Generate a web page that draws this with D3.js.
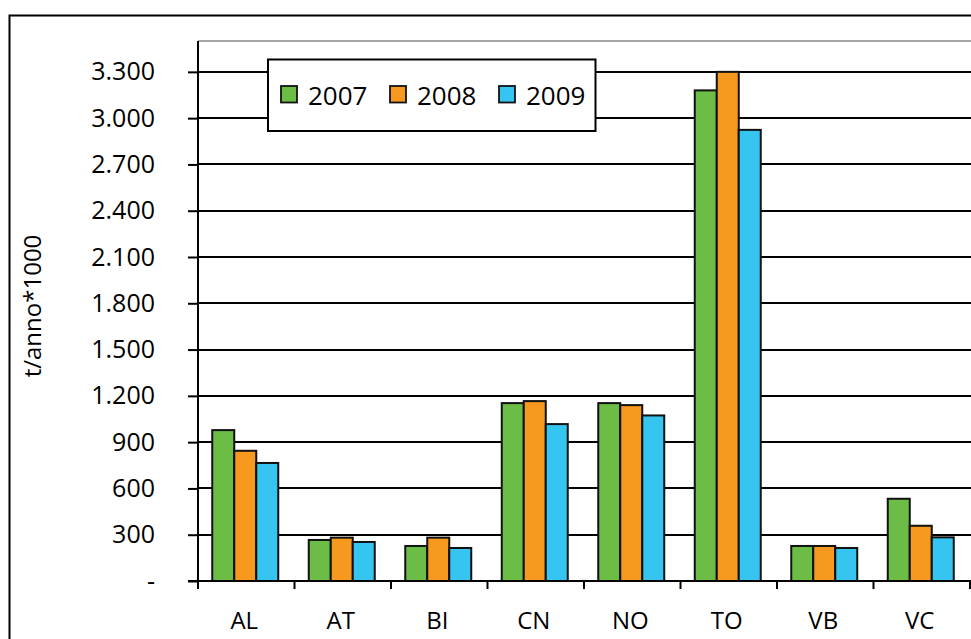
<!DOCTYPE html>
<html>
<head>
<meta charset="utf-8">
<script src="https://cdn.jsdelivr.net/npm/d3@7"></script>
<style>
  html, body { margin: 0; padding: 0; background: #fff; }
  svg { display: block; font-family: "Open Sans", "Noto Sans", sans-serif; }
</style>
</head>
<body>
<svg id="chart" width="971" height="639"></svg>
<script>
const categories = ["AL", "AT", "BI", "CN", "NO", "TO", "VB", "VC"];
const years = ["2007", "2008", "2009"];
const values2007 = [978, 266, 227, 1153, 1153, 3180, 227, 533];
const values2008 = [844, 281, 281, 1166, 1140, 3300, 227, 358];
const values2009 = [765, 253, 214, 1017, 1073, 2924, 214, 283];
const yTicks = [0, 300, 600, 900, 1200, 1500, 1800, 2100, 2400, 2700, 3000, 3300];
const yTickLabels = ["-", "300", "600", "900", "1.200", "1.500", "1.800", "2.100", "2.400", "2.700", "3.000", "3.300"];
const colors = ["#6bbd45", "#f7991e", "#35c5f0"];
const yTitle = "t/anno*1000";

(function () {
const series = [values2007, values2008, values2009];

const svg = d3.select("#chart");

// outer frame (extends beyond the picture on the right and bottom)
svg.append("rect")
  .attr("x", 9.5).attr("y", 15.5)
  .attr("width", 1100).attr("height", 800)
  .attr("fill", "none").attr("stroke", "#000").attr("stroke-width", 2);

const pLeft = 198, pRight = 970, pTop = 41, pBottom = 581;

const x = d3.scaleBand().domain(categories).range([pLeft, pRight]).padding(0);
const groupW = 66;
const x1 = d3.scaleBand().domain(years).range([0, groupW]).padding(0);
const y = d3.scaleLinear().domain([0, 3500]).range([pBottom, pTop]);

// top plot border (light gray)
svg.append("line")
  .attr("x1", pLeft).attr("x2", 971)
  .attr("y1", y(3500)).attr("y2", y(3500))
  .attr("stroke", "#a6a6a6").attr("stroke-width", 2);

// gridlines
svg.append("g").selectAll("line")
  .data(yTicks.filter(d => d > 0))
  .join("line")
  .attr("x1", pLeft).attr("x2", 971)
  .attr("y1", d => Math.round(y(d))).attr("y2", d => Math.round(y(d)))
  .attr("stroke", "#000").attr("stroke-width", 2);

// y axis
const yAxis = d3.axisLeft(y)
  .tickValues(yTicks)
  .tickSize(10)
  .tickPadding(33)
  .tickFormat((d, i) => yTickLabels[i]);
const gy = svg.append("g").attr("transform", `translate(${pLeft},0)`).call(yAxis);
gy.select(".domain").remove();
gy.selectAll(".tick line").attr("stroke", "#000").attr("stroke-width", 2);
gy.selectAll(".tick text")
  .attr("font-size", 25).attr("fill", "#000")
  .attr("font-family", "'Open Sans', sans-serif");

// bars
const groups = svg.append("g").selectAll("g")
  .data(categories)
  .join("g")
  .attr("transform", d => `translate(${x(d) + (x.bandwidth() - groupW) / 2 - 1},0)`);

groups.selectAll("rect")
  .data((c, ci) => years.map((yr, si) => ({ yr, si, v: series[si][ci] })))
  .join("rect")
  .attr("x", d => x1(d.yr))
  .attr("width", x1.bandwidth())
  .attr("y", d => y(d.v))
  .attr("height", d => pBottom - y(d.v))
  .attr("fill", d => colors[d.si])
  .attr("stroke", "#111")
  .attr("stroke-width", 2);

// y axis line
svg.append("line")
  .attr("x1", pLeft).attr("x2", pLeft)
  .attr("y1", y(3500)).attr("y2", pBottom + 8)
  .attr("stroke", "#000").attr("stroke-width", 2);

// x axis
svg.append("line")
  .attr("x1", pLeft - 10).attr("x2", 971)
  .attr("y1", pBottom).attr("y2", pBottom)
  .attr("stroke", "#000").attr("stroke-width", 2);

const tickXs = categories.map(c => x(c)).concat([x(categories[categories.length - 1]) + x.bandwidth()]);
svg.append("g").selectAll("line")
  .data(tickXs)
  .join("line")
  .attr("x1", d => d).attr("x2", d => d)
  .attr("y1", pBottom).attr("y2", pBottom + 8)
  .attr("stroke", "#000").attr("stroke-width", 2);

svg.append("g").selectAll("text")
  .data(categories)
  .join("text")
  .attr("x", d => x(d) + x.bandwidth() / 2 - 2)
  .attr("y", 629)
  .attr("text-anchor", "middle")
  .attr("font-size", 24)
  .attr("fill", "#000")
  .text(d => d);

// y title
svg.append("text")
  .attr("transform", "translate(41,306) rotate(-90)")
  .attr("text-anchor", "middle")
  .attr("font-size", 24)
  .attr("fill", "#000")
  .text(yTitle);

// legend
const lg = svg.append("g");
lg.append("rect")
  .attr("x", 268).attr("y", 59.5)
  .attr("width", 327.5).attr("height", 71.5)
  .attr("fill", "#fff").attr("stroke", "#000").attr("stroke-width", 2);
const legendX = [281, 390, 499];
const items = lg.selectAll("g.item")
  .data(years)
  .join("g")
  .attr("class", "item")
  .attr("transform", (d, i) => `translate(${legendX[i]},86)`);
items.append("rect")
  .attr("width", 16).attr("height", 16.5)
  .attr("fill", (d, i) => colors[i])
  .attr("stroke", "#111").attr("stroke-width", 1.8);
items.append("text")
  .attr("x", 27).attr("y", 19)
  .attr("font-size", 26)
  .attr("fill", "#000")
  .text(d => d);
})();
</script>
</body>
</html>
